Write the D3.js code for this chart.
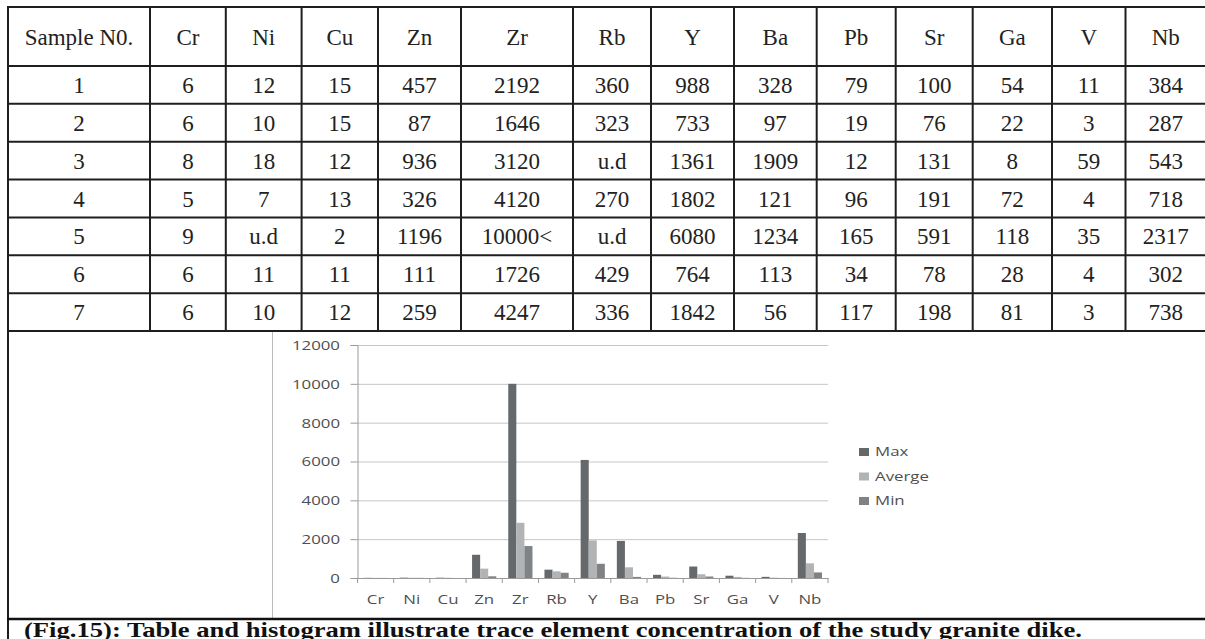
<!DOCTYPE html>
<html>
<head>
<meta charset="utf-8">
<script src="https://cdn.jsdelivr.net/npm/d3@7"></script>
<style>
  html, body { margin: 0; padding: 0; background: #fff; }
  svg { display: block; }
</style>
</head>
<body>
<svg id="fig" width="1205" height="639"></svg>
<script>
// ---------- DATA ----------
const headerLabels = ["Sample N0.", "Cr", "Ni", "Cu", "Zn", "Zr", "Rb", "Y", "Ba", "Pb", "Sr", "Ga", "V", "Nb"];
const sample1 = ["1", "6", "12", "15", "457", "2192", "360", "988", "328", "79", "100", "54", "11", "384"];
const sample2 = ["2", "6", "10", "15", "87", "1646", "323", "733", "97", "19", "76", "22", "3", "287"];
const sample3 = ["3", "8", "18", "12", "936", "3120", "u.d", "1361", "1909", "12", "131", "8", "59", "543"];
const sample4 = ["4", "5", "7", "13", "326", "4120", "270", "1802", "121", "96", "191", "72", "4", "718"];
const sample5 = ["5", "9", "u.d", "2", "1196", "10000<", "u.d", "6080", "1234", "165", "591", "118", "35", "2317"];
const sample6 = ["6", "6", "11", "11", "111", "1726", "429", "764", "113", "34", "78", "28", "4", "302"];
const sample7 = ["7", "6", "10", "12", "259", "4247", "336", "1842", "56", "117", "198", "81", "3", "738"];

const elements = ["Cr", "Ni", "Cu", "Zn", "Zr", "Rb", "Y", "Ba", "Pb", "Sr", "Ga", "V", "Nb"];
const seriesNames = ["Max", "Averge", "Min"];
const maxVals = [9, 18, 15, 1196, 10000, 429, 6080, 1909, 165, 591, 118, 59, 2317];
const avgVals = [6.6, 11.3, 11.4, 482, 2842, 344, 1938, 551, 75, 195, 55, 17, 756];
const minVals = [5, 7, 2, 87, 1646, 270, 733, 56, 12, 76, 8, 3, 287];
const yTicks = [0, 2000, 4000, 6000, 8000, 10000, 12000];
const captionText = "(Fig.15): Table and histogram illustrate trace element concentration of the study granite dike.";

// ---------- LAYOUT ----------
const svg = d3.select("#fig");
svg.append("rect").attr("width", 1205).attr("height", 639).attr("fill", "#fff");

const tableRows = [sample1, sample2, sample3, sample4, sample5, sample6, sample7];
const colLines = [8, 150, 225.8, 301.6, 378, 461, 573, 651, 734, 816.7, 895.7, 972.7, 1052, 1125.5, 1206];
const tableTop = 7, headerBottom = 66, tableBottom = 331;
const rowH = (tableBottom - headerBottom) / tableRows.length;
const lineColor = "#1e1e1e";

const tbl = svg.append("g").attr("class", "table");
const hLines = [tableTop, headerBottom].concat(tableRows.map((r, i) => headerBottom + rowH * (i + 1)));
tbl.selectAll("line.h").data(hLines).join("line")
  .attr("x1", colLines[0] - 1).attr("x2", 1205)
  .attr("y1", d => d).attr("y2", d => d)
  .attr("stroke", lineColor).attr("stroke-width", 2);
tbl.selectAll("line.v").data(colLines.slice(1, -1)).join("line")
  .attr("x1", d => d).attr("x2", d => d)
  .attr("y1", tableTop).attr("y2", tableBottom)
  .attr("stroke", lineColor).attr("stroke-width", 2);
svg.append("line").attr("x1", colLines[0]).attr("x2", colLines[0])
  .attr("y1", tableTop - 1).attr("y2", 639)
  .attr("stroke", lineColor).attr("stroke-width", 2);

const colCenter = i => (colLines[i] + colLines[i + 1]) / 2;
const tfont = "'Liberation Serif', 'Times New Roman', serif";
tbl.selectAll("text.hd").data(headerLabels).join("text")
  .attr("x", (d, i) => colCenter(i))
  .attr("y", (tableTop + headerBottom) / 2 + 8.5)
  .attr("text-anchor", "middle")
  .attr("font-family", tfont).attr("font-size", 23).attr("fill", "#222")
  .text(d => d);
tableRows.forEach((row, r) => {
  const cy = headerBottom + rowH * r + rowH / 2;
  tbl.selectAll("text.r" + r).data(row).join("text")
    .attr("x", (d, i) => colCenter(i))
    .attr("y", cy + 8)
    .attr("text-anchor", "middle")
    .attr("font-family", tfont).attr("font-size", 23).attr("fill", "#222")
    .text(d => d);
});

// ---------- CHART ----------
const cLeft = 357.5, cRight = 828, cTop = 345, cBottom = 578;
const sx = 1.38; // horizontal stretch of chart text
const cfont = "'Open Sans', 'DejaVu Sans', sans-serif";
const fs = 12.2;
const textColor = "#4f4f4f";

svg.append("line").attr("x1", 272.5).attr("x2", 272.5).attr("y1", tableBottom + 1).attr("y2", 618)
  .attr("stroke", "#bbb").attr("stroke-width", 1);

const x = d3.scaleBand().domain(elements).range([cLeft, cRight]).padding(0);
const x1 = d3.scaleBand().domain(seriesNames).range([0, x.bandwidth()]).paddingInner(0).paddingOuter(0.743);
const y = d3.scaleLinear().domain([0, 12000]).range([cBottom, cTop]);
const color = d3.scaleOrdinal().domain(seriesNames).range(["#65696c", "#b1b3b5", "#808386"]);

const chart = svg.append("g").attr("class", "chart");

// gridlines
chart.append("g")
  .attr("transform", `translate(${cLeft},0)`)
  .call(d3.axisLeft(y).tickValues(yTicks.slice(1)).tickSize(-(cRight - cLeft)).tickFormat(""))
  .call(g => g.select(".domain").remove())
  .call(g => g.selectAll(".tick line").attr("stroke", "#c6c6c6").attr("stroke-width", 1));

// bars
const seriesVals = { "Max": maxVals, "Averge": avgVals, "Min": minVals };
const barData = [];
elements.forEach((el, i) => seriesNames.forEach(s => barData.push({ el, s, v: seriesVals[s][i] })));
chart.append("g").selectAll("rect").data(barData).join("rect")
  .attr("x", d => x(d.el) + x1(d.s))
  .attr("width", x1.bandwidth())
  .attr("y", d => y(d.v))
  .attr("height", d => y(0) - y(d.v))
  .attr("fill", d => color(d.s));

// y axis
chart.append("g")
  .attr("transform", `translate(${cLeft},0)`)
  .call(d3.axisLeft(y).tickValues(yTicks).tickSize(7).tickFormat(d3.format("d")))
  .call(g => g.select(".domain").attr("stroke", "#9a9a9a"))
  .call(g => g.selectAll(".tick line").attr("stroke", "#9a9a9a"))
  .call(g => g.selectAll(".tick text")
    .attr("x", -17.5 / sx).attr("dy", "0.36em")
    .attr("transform", `scale(${sx},1)`)
    .attr("font-family", cfont).attr("font-size", fs).attr("fill", textColor));

// x axis
chart.append("g")
  .attr("transform", `translate(0,${cBottom})`)
  .call(d3.axisBottom(x).tickSize(0).tickPadding(0))
  .call(g => g.select(".domain").attr("stroke", "#9a9a9a"))
  .call(g => g.selectAll(".tick text")
    .attr("y", 26.5).attr("dy", 0)
    .attr("transform", `scale(${sx},1)`)
    .attr("x", 0)
    .attr("font-family", cfont).attr("font-size", fs).attr("fill", textColor));
const bounds = elements.map(e => x(e)).concat([cRight]);
chart.append("g").selectAll("line").data(bounds).join("line")
  .attr("x1", d => d).attr("x2", d => d)
  .attr("y1", cBottom).attr("y2", cBottom + 5)
  .attr("stroke", "#9a9a9a");

// legend
const legend = chart.append("g").attr("transform", "translate(859,452)");
seriesNames.forEach((s, i) => {
  const g = legend.append("g").attr("transform", `translate(0,${i * 24.5})`);
  g.append("rect").attr("x", 0).attr("y", -4).attr("width", 10).attr("height", 8).attr("fill", color(s));
  g.append("text").attr("transform", `translate(16,0) scale(${sx},1)`)
    .attr("dy", "0.36em")
    .attr("font-family", cfont).attr("font-size", fs).attr("fill", textColor)
    .text(s);
});

// ---------- CAPTION ----------
svg.append("line").attr("x1", 7).attr("x2", 1205).attr("y1", 619).attr("y2", 619)
  .attr("stroke", "#111").attr("stroke-width", 2.5);
svg.append("text")
  .attr("x", 24).attr("y", 637)
  .attr("font-family", tfont).attr("font-weight", "bold").attr("font-size", 21.5).attr("fill", "#111")
  .attr("textLength", 1058).attr("lengthAdjust", "spacingAndGlyphs")
  .text(captionText);
</script>
</body>
</html>
